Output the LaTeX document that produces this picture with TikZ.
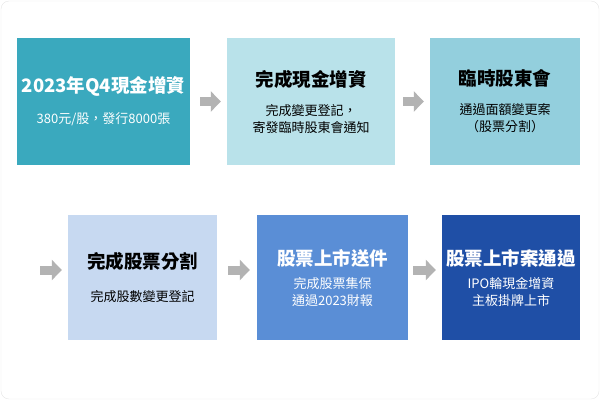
\documentclass[tikz,border=0pt]{standalone}
\usepackage{fontspec}
\setmainfont{Noto Sans CJK TC}
\usetikzlibrary{arrows.meta}
\definecolor{c1}{HTML}{3AA9BE}
\definecolor{c2}{HTML}{B9E2EA}
\definecolor{c3}{HTML}{93CFDD}
\definecolor{c4}{HTML}{C7D9F1}
\definecolor{c5}{HTML}{5A8ED6}
\definecolor{c6}{HTML}{1F4FA6}
\definecolor{ar}{HTML}{B3B3B3}
\tikzset{
 box/.style={align=center,inner sep=0pt,font=\fontsize{13}{17}\selectfont},
 ttl/.style={font=\fontsize{18.5}{22}\selectfont\bfseries},
 arr/.style={-{Triangle[length=10pt,width=20pt]},line width=9pt,ar}
}
\newcommand{\ttlx}[1]{{\fontsize{18.5}{22}\selectfont\bfseries #1}}
\begin{document}
\begin{tikzpicture}[x=1pt,y=-1pt]
\useasboundingbox (0,0) rectangle (600,400);
\draw[black!10,rounded corners=8pt] (1,1) rectangle (599,399);
\node[box,fill=c1,text=white,minimum width=173pt,minimum height=127pt] (b1) at (103.5,101.5) {\ttlx{2023年Q4現金增資}\\[14pt]380元/股，發行8000張};
\node[box,fill=c2,text=black,minimum width=168pt,minimum height=127pt] (b2) at (311,101.5) {\ttlx{完成現金增資}\\[12pt]完成變更登記，\\寄發臨時股東會通知};
\node[box,fill=c3,text=black,minimum width=150pt,minimum height=127pt] (b3) at (505,101.5) {\ttlx{臨時股東會}\\[12pt]通過面額變更案\\（股票分割）};
\node[box,fill=c4,text=black,minimum width=149pt,minimum height=125pt] (b4) at (142.5,277.5) {\ttlx{完成股票分割}\\[16pt]完成股數變更登記};
\node[box,fill=c5,text=white,minimum width=151pt,minimum height=125pt] (b5) at (332.5,277.5) {\ttlx{股票上市送件}\\[6pt]完成股票集保\\通過2023財報};
\node[box,fill=c6,text=white,minimum width=138pt,minimum height=125pt] (b6) at (511,277.5) {\ttlx{股票上市案通過}\\[6pt]IPO輪現金增資\\主板掛牌上市};
\coordinate (s4) at (40,270);
\draw[arr] ([xshift=10pt]b1.east) -- ([xshift=-6pt]b2.west);
\draw[arr] ([xshift=8pt]b2.east) -- ([xshift=-6pt]b3.west);
\draw[arr] (s4) -- ([xshift=-6pt]b4.west |- s4);
\draw[arr] ([xshift=11pt]b4.east |- s4) -- ([xshift=-7pt]b5.west |- s4);
\draw[arr] ([xshift=5pt]b5.east |- s4) -- ([xshift=-6pt]b6.west |- s4);
\end{tikzpicture}
\end{document}
